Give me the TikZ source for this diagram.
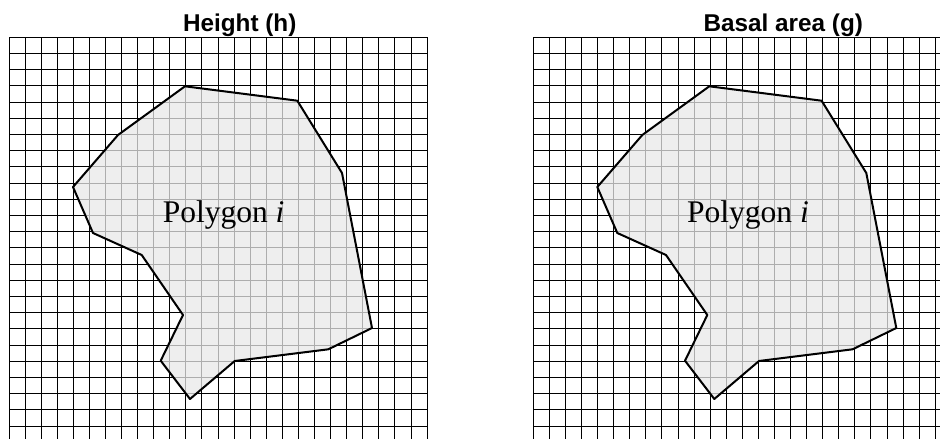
\documentclass[tikz,border=0pt]{standalone}
\usepackage{fontspec}
\setmainfont{Liberation Serif}
\newfontfamily\titlefont{Liberation Sans}
\usepackage{tikz}

\begin{document}
\begin{tikzpicture}[
  x=1pt, y=-1pt,
  gridline/.style={line width=1pt, color=black},
  region/.style={draw=black, line width=2pt, line join=round,
    fill=black!9, fill opacity=0.75},
  paneltitle/.style={anchor=base, font=\titlefont\fontsize{24.3}{24.3}\selectfont\bfseries},
  regionlabel/.style={anchor=base west, font=\fontsize{31.5}{31.5}\selectfont}
]
  \useasboundingbox (0,0) rectangle (940,439);
  \clip (0,0) rectangle (940,439);

  \foreach \dx in {0, 524.3} {
    \foreach \i in {0,...,26}
      \draw[gridline] ({\dx+9+\i*16.08},37.3) -- ++(0,420);
    \foreach \j in {0,...,25}
      \draw[gridline] ({\dx+9},{37.3+\j*16.2}) -- ++(418.1,0);
    \begin{scope}[xshift=\dx]
      \draw[region] (185,86.3) -- (297.3,100.7) -- (342,173) -- (372,328)
        -- (328.3,349.3) -- (234.7,361) -- (190,399) -- (160.7,360.7)
        -- (183,315) -- (141.7,255) -- (93,233) -- (73,187) -- (118,135) -- cycle;
    \end{scope}
  }

  \node[paneltitle]  (titleh) at (239.7,31.7) {Height (h)};
  \node[paneltitle]  (titleg) at (783.3,31.7) {Basal area (g)};
  \node[regionlabel] (polyh)  at (159.3,222.7) {Polygon \textit{i}};
  \node[regionlabel] (polyg)  at (683.6,222.7) {Polygon \textit{i}};
\end{tikzpicture}
\end{document}
